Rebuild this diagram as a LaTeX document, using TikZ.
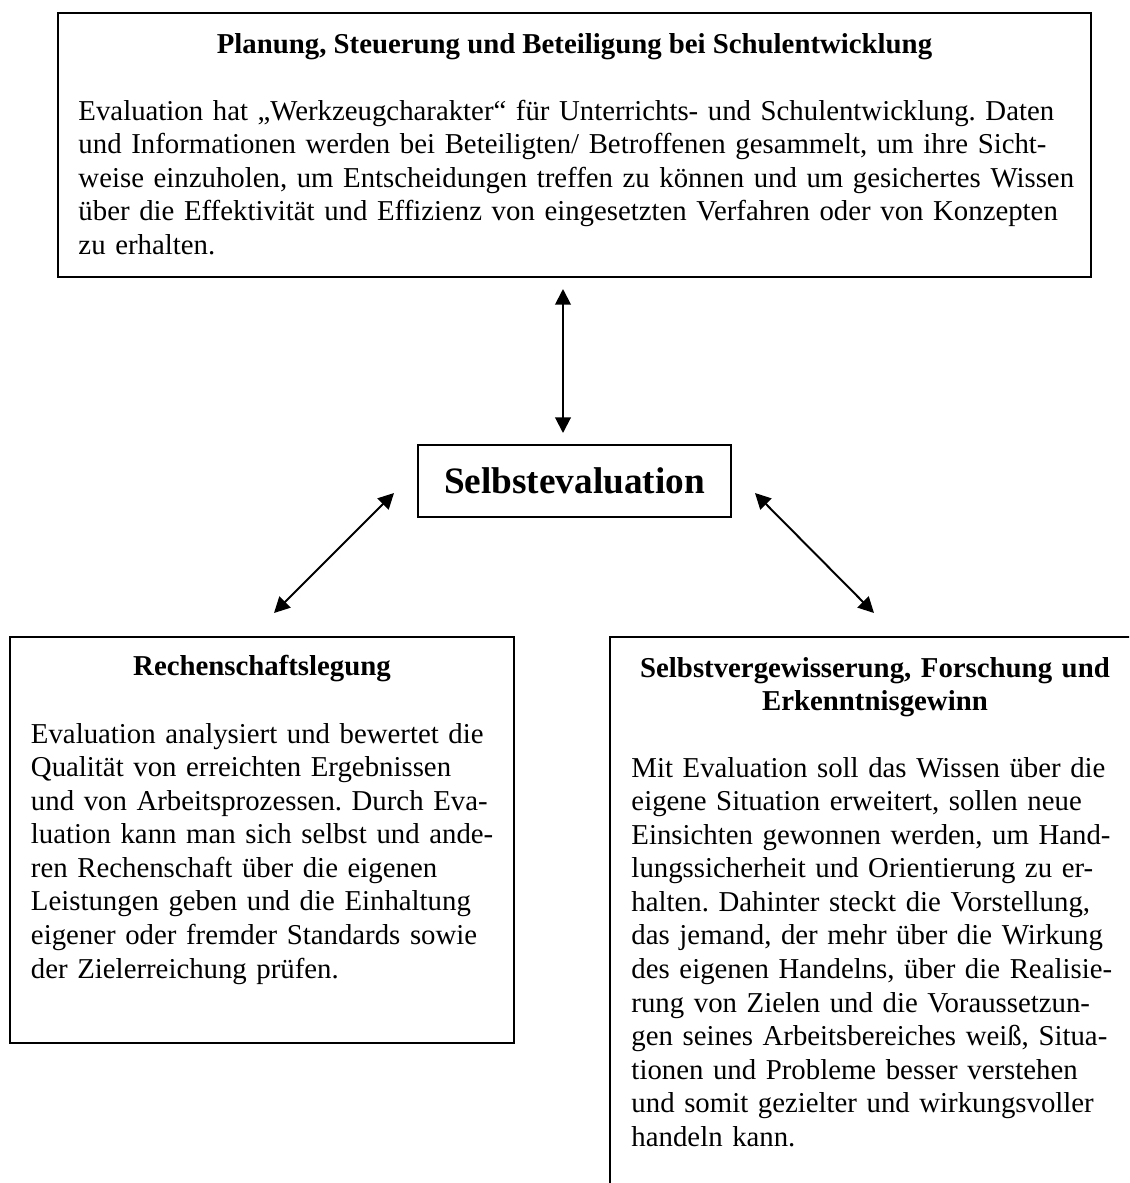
\documentclass[tikz,border=0pt]{standalone}
\usepackage{fontspec}
\setmainfont{Liberation Serif}
\usetikzlibrary{arrows.meta,positioning}
\frenchspacing

\begin{document}
\begin{tikzpicture}[x=0.408pt,y=-0.408pt,>={Triangle[length=6.4pt,width=6.4pt]},
    frame/.style={draw,line width=0.8pt,inner sep=0pt},
    heading/.style={font=\fontsize{11.75pt}{13.7pt}\selectfont\bfseries,align=center,inner sep=0pt},
    bodytext/.style={font=\fontsize{11.75pt}{13.7pt}\selectfont,align=left,inner sep=0pt},
    link/.style={<->,line width=0.8pt}]
  \useasboundingbox (0,0) rectangle (1129,1183);
  \clip (0,0) rectangle (1129,1183);

  % boxes
  \node[frame,minimum width=1033*0.408pt,minimum height=264*0.408pt] (planbox) at (574.5,145) {};
  \node[frame,minimum width=313*0.408pt,minimum height=72*0.408pt,
    font=\fontsize{15.2pt}{18pt}\selectfont\bfseries] (selfbox) at (574.5,481) {Selbstevaluation};
  \node[frame,minimum width=504*0.408pt,minimum height=406*0.408pt] (accbox) at (262,840) {};
  \node[frame,minimum width=530*0.408pt,minimum height=563*0.408pt] (resbox) at (875,918.5) {};

  % texts
  \node[heading,anchor=base] (plantitle) at (574.5,53) {Planung, Steuerung und Beteiligung bei Schulentwicklung};
  \node[bodytext,anchor=base west,text width=1050*0.408pt] (plantext) at (78,120) {Evaluation hat „Werkzeugcharakter“ für Unterrichts- und Schulentwicklung. Daten\\
    und Informationen werden bei Beteiligten/ Betroffenen gesammelt, um ihre Sicht-\\
    weise einzuholen, um Entscheidungen treffen zu können und um gesichertes Wissen\\
    über die Effektivität und Effizienz von eingesetzten Verfahren oder von Konzepten\\
    zu erhalten.};

  \node[heading,anchor=base] (acctitle) at (262,675) {Rechenschaftslegung};
  \node[bodytext,anchor=base west,text width=480*0.408pt] (acctext) at (30.5,743) {Evaluation analysiert und bewertet die\\
    Qualität von erreichten Ergebnissen\\
    und von Arbeitsprozessen. Durch Eva-\\
    luation kann man sich selbst und ande-\\
    ren Rechenschaft über die eigenen\\
    Leistungen geben und die Einhaltung\\
    eigener oder fremder Standards sowie\\
    der Zielerreichung prüfen.};

  \node[heading,anchor=base,text width=520*0.408pt] (restitle) at (875,677) {Selbstvergewisserung, Forschung und\\Erkenntnisgewinn};
  \node[bodytext,anchor=base west,text width=495*0.408pt] (restext) at (631,777) {Mit Evaluation soll das Wissen über die\\
    eigene Situation erweitert, sollen neue\\
    Einsichten gewonnen werden, um Hand-\\
    lungssicherheit und Orientierung zu er-\\
    halten. Dahinter steckt die Vorstellung,\\
    das jemand, der mehr über die Wirkung\\
    des eigenen Handelns, über die Realisie-\\
    rung von Zielen und die Voraussetzun-\\
    gen seines Arbeitsbereiches weiß, Situa-\\
    tionen und Probleme besser verstehen\\
    und somit gezielter und wirkungsvoller\\
    handeln kann.};

  % arrows
  \coordinate (topend) at (563,289);
  \coordinate (midend) at (563,433);
  \coordinate (leftup) at (394,493);
  \coordinate (leftdown) at (274,613);
  \coordinate (rightup) at (755,493);
  \coordinate (rightdown) at (874,613);
  \draw[link] (topend) -- (midend);
  \draw[link] (leftup) -- (leftdown);
  \draw[link] (rightup) -- (rightdown);
\end{tikzpicture}
\end{document}
